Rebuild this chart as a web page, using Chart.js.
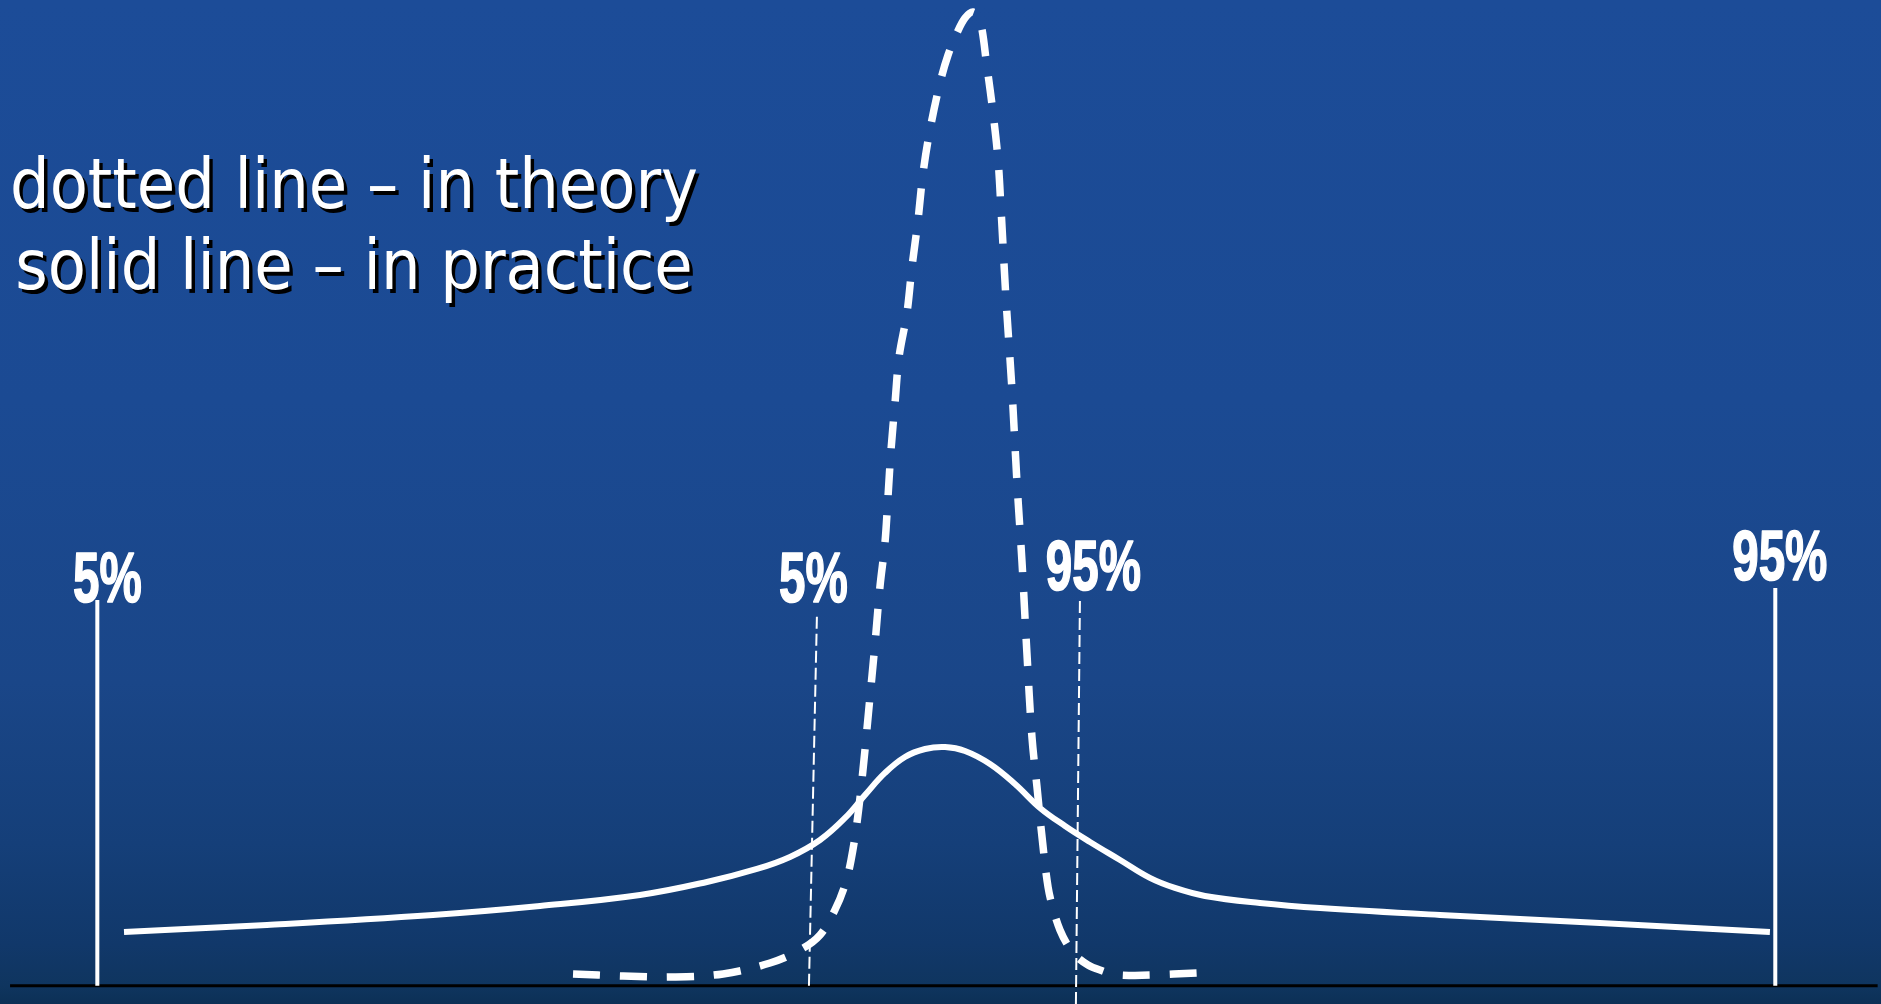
<!DOCTYPE html>
<html>
<head>
<meta charset="utf-8">
<title>Theory vs practice spread</title>
<script src="https://cdn.jsdelivr.net/npm/chart.js@4/dist/chart.umd.min.js"></script>
<style>
  html, body { margin: 0; padding: 0; background: #0c3056; overflow: hidden; }
  canvas { display: block; }
</style>
</head>
<body>
<canvas id="chart" width="1881" height="1004"></canvas>
<script>
// Outcome axis: 0 and 100 mark the outer 5% / 95% bounds of the practical spread.
const xRange = [-5.8, 106.3];
const yRange = [-1.85, 100];

// Solid curve: spread of results in practice
const practiceX = [1.59, 10.11, 20.0, 26.38, 32.34, 36.33, 39.31, 41.28, 43.07, 44.56, 45.75, 46.94,
  48.13, 49.33, 50.52, 51.71, 53.20, 54.69, 56.18, 57.67, 59.16, 60.95, 62.73, 64.22, 66.01, 69.29,
  72.87, 80.02, 89.55, 99.68];
const practiceY = [5.46, 6.17, 7.18, 8.09, 9.21, 10.53, 11.85, 13.07, 14.79, 17.02, 19.35, 21.59,
  23.21, 24.02, 24.22, 23.82, 22.50, 20.47, 18.04, 16.21, 14.59, 12.76, 10.94, 9.92, 9.11, 8.40,
  7.89, 7.18, 6.37, 5.46];

// Dashed curve: spread of results in theory
const theoryX = [28.35, 31.33, 34.31, 37.29, 40.09, 41.88, 43.07, 43.96, 44.56, 44.92, 45.27, 45.63,
  45.99, 46.35, 46.64, 46.94, 47.12, 47.30, 47.54, 47.78, 48.25, 48.55, 48.91, 49.21, 49.62, 50.22,
  50.70, 51.23, 51.71, 52.19, 52.60, 53.02, 53.38, 53.68, 53.85, 54.15, 54.51, 54.81, 55.11, 55.40,
  55.70, 56.00, 56.30, 56.66, 57.01, 57.37, 57.79, 58.26, 59.04, 59.75, 60.77, 62.73, 65.54];
const theoryY = [1.20, 0.99, 0.89, 1.20, 2.31, 3.63, 5.15, 7.69, 10.23, 12.76, 16.51, 21.89,
  28.28, 34.77, 40.45, 44.92, 49.58, 54.35, 59.12, 63.79, 68.25, 72.92, 77.68, 82.45, 86.81, 91.58,
  94.42, 96.65, 98.17, 98.78, 97.97, 93.20, 88.54, 83.77, 79.00, 69.77, 60.44, 51.00, 42.89, 33.76,
  25.24, 20.17, 15.09, 10.02, 7.49, 5.66, 4.24, 3.12, 2.11, 1.60, 1.10, 1.10, 1.30];

// Percentile markers (outer pair: practice, inner pair: theory)
const markerLabels = ['5%', '5%', '95%', '95%'];
const markerXTop = [0, 42.89, 58.56, 100];
const markerXBottom = [0, 42.41, 58.32, 100];
const markerYTop = [39.14, 37.92, 39.14, 40.35];
const markerYBottom = [0, 0, -1.85, 0];

// Horizontal base line
const baselineX = [-5.2, 106.1];
const baselineY = [0, 0];

const captionLines = ['dotted line \u2013 in theory', 'solid line \u2013 in practice'];

// ---- styling ----
const markerStyle = [
  { width: 4, dash: [] },
  { width: 2, dash: [12, 5] },
  { width: 2, dash: [12, 5] },
  { width: 4, dash: [] }
];
// label placement relative to the top of each marker (pixels)
const labelOffset = [
  { dx: 10, dy: 2 },
  { dx: -3.5, dy: -10 },
  { dx: 13.5, dy: -10 },
  { dx: 4.5, dy: -8 }
];

const toPoints = (xs, ys) => xs.map((x, i) => ({ x, y: ys[i] }));

const datasets = [];
datasets.push({
  label: 'theory',
  data: toPoints(theoryX, theoryY),
  borderColor: '#ffffff',
  borderWidth: 7.5,
  borderDash: [27, 20],
  borderCapStyle: 'butt',
  tension: 0.35,
  pointRadius: 0,
  fill: false
});
datasets.push({
  label: 'practice',
  data: toPoints(practiceX, practiceY),
  borderColor: '#ffffff',
  borderWidth: 6,
  borderJoinStyle: 'round',
  tension: 0.4,
  pointRadius: 0,
  fill: false
});
markerLabels.forEach((lab, i) => {
  datasets.push({
    label: 'marker ' + lab,
    data: [{ x: markerXBottom[i], y: markerYBottom[i] }, { x: markerXTop[i], y: markerYTop[i] }],
    borderColor: '#ffffff',
    borderWidth: markerStyle[i].width,
    borderDash: markerStyle[i].dash,
    borderCapStyle: 'butt',
    pointRadius: 0,
    tension: 0,
    fill: false
  });
});
datasets.push({
  label: 'baseline',
  data: toPoints(baselineX, baselineY),
  borderColor: '#000000',
  borderWidth: 3,
  pointRadius: 0,
  tension: 0,
  fill: false
});

// Blue backdrop, darkening toward the floor
const backdrop = {
  id: 'backdrop',
  beforeDraw(chart) {
    const { ctx, width, height } = chart;
    const g = ctx.createLinearGradient(0, 0, 0, height);
    g.addColorStop(0.00, '#1c4c98');
    g.addColorStop(0.40, '#1b4a93');
    g.addColorStop(0.68, '#1a4688');
    g.addColorStop(0.84, '#153f79');
    g.addColorStop(0.94, '#11386a');
    g.addColorStop(0.982, '#0f355f');
    g.addColorStop(1.00, '#0c3056');
    ctx.save();
    ctx.fillStyle = g;
    ctx.fillRect(0, 0, width, height);
    ctx.restore();
  }
};

// Percentile labels above the markers and the two-line caption
const labels = {
  id: 'labels',
  afterDatasetsDraw(chart) {
    const { ctx, scales } = chart;
    ctx.save();
    ctx.fillStyle = '#ffffff';
    ctx.strokeStyle = '#ffffff';
    ctx.lineWidth = 1.6;
    ctx.lineJoin = 'round';
    ctx.textAlign = 'center';
    ctx.textBaseline = 'alphabetic';
    ctx.font = 'bold 70px "Liberation Sans", Arial, sans-serif';
    markerLabels.forEach((lab, i) => {
      const px = scales.x.getPixelForValue(markerXTop[i]) + labelOffset[i].dx;
      const py = scales.y.getPixelForValue(markerYTop[i]) + labelOffset[i].dy;
      ctx.save();
      ctx.translate(px, py);
      ctx.scale(0.68, 1);
      ctx.fillText(lab, 0, 0);
      ctx.strokeText(lab, 0, 0);
      ctx.restore();
    });

    // caption
    ctx.font = '70px "DejaVu Sans Condensed", "DejaVu Sans", sans-serif';
    const w0 = ctx.measureText(captionLines[0]).width;
    const sx = 688 / w0;
    const baselines = [208, 289];
    captionLines.forEach((t, i) => {
      ctx.save();
      ctx.translate(354, baselines[i]);
      ctx.scale(sx, 1);
      ctx.fillStyle = '#000000';
      ctx.fillText(t, 3.5 / sx, 3.5);
      ctx.fillStyle = '#ffffff';
      ctx.fillText(t, 0, 0);
      ctx.restore();
    });
    ctx.restore();
  }
};

new Chart(document.getElementById('chart'), {
  type: 'line',
  data: { datasets },
  options: {
    responsive: false,
    animation: false,
    events: [],
    layout: { padding: 0 },
    plugins: { legend: { display: false }, tooltip: { enabled: false } },
    scales: {
      x: { type: 'linear', min: xRange[0], max: xRange[1], display: false },
      y: { type: 'linear', min: yRange[0], max: yRange[1], display: false }
    }
  },
  plugins: [backdrop, labels]
});
</script>
</body>
</html>
